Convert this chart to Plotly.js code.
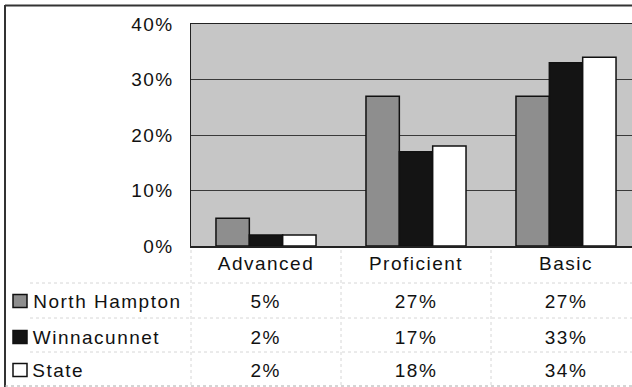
<!DOCTYPE html>
<html>
<head>
<meta charset="utf-8">
<script src="https://cdn.plot.ly/plotly-3.0.1.min.js"></script>
<style>
  html, body { margin: 0; padding: 0; background: #fff; }
  #chart { width: 632px; height: 387px; }
  #chart text { letter-spacing: 1.5px; }
</style>
</head>
<body>
<div id="chart"></div>
<script>
// Achievement levels and the share of students in each, by group
const categories = ['Advanced', 'Proficient', 'Basic'];
const seriesNames = ['North Hampton', 'Winnacunnet', 'State'];
const northHampton = [5, 27, 27];
const winnacunnet = [2, 17, 33];
const state = [2, 18, 34];
const yTicks = [0, 10, 20, 30, 40];

const seriesValues = [northHampton, winnacunnet, state];
const seriesColors = ['#8e8e8e', '#141414', '#ffffff'];

// figure geometry (pixels)
const W = 632, H = 387;
const M = { l: 191, r: 0, t: 24, b: 141 };
const plotW = W - M.l - M.r;
const plotH = H - M.t - M.b;
const slot = 150;                       // pixel width of one category
const px = x => (x - M.l) / plotW;      // pixel -> paper x
const py = y => 1 - (y - M.t) / plotH;  // pixel -> paper y

const font = { family: '"Liberation Sans", Arial, Helvetica, sans-serif', size: 19, color: '#111111' };

const traces = seriesNames.map((name, i) => ({
  type: 'bar',
  name: name,
  x: categories,
  y: seriesValues[i],
  marker: { color: seriesColors[i], line: { color: '#111', width: 1.5 } },
  hoverinfo: 'skip'
}));

// data table beneath the plot
const rowY = [301, 337, 370];
const labelCenterX = [107, 97, 58];     // centre of each row label, labels start at x = 33
const annotations = [];
const shapes = [];
seriesNames.forEach((name, r) => {
  annotations.push({
    xref: 'paper', yref: 'paper', x: px(labelCenterX[r]), y: py(rowY[r]),
    xanchor: 'center', yanchor: 'middle', text: name, showarrow: false, font: font
  });
  categories.forEach((c, k) => {
    annotations.push({
      xref: 'x', yref: 'paper', x: c, y: py(rowY[r]),
      xanchor: 'center', yanchor: 'middle', text: seriesValues[r][k] + '%',
      showarrow: false, font: font
    });
  });
  // legend key square
  const top = rowY[r] - 6.5;
  shapes.push({
    type: 'rect', xref: 'paper', yref: 'paper',
    x0: px(13), x1: px(27), y0: py(top), y1: py(top + 13),
    fillcolor: seriesColors[r], line: { color: '#111', width: 1.5 }
  });
});

// faint dotted rules of the table
const faint = { color: '#d6d6d6', width: 1, dash: 'dot' };
[283, 318, 352].forEach(y => shapes.push({
  type: 'line', xref: 'paper', yref: 'paper',
  x0: px(30), x1: px(W), y0: py(y), y1: py(y), line: faint
}));
[M.l, M.l + slot, M.l + 2 * slot].forEach(x => shapes.push({
  type: 'line', xref: 'paper', yref: 'paper',
  x0: px(x), x1: px(x), y0: py(250), y1: py(H), line: faint
}));

// outer frame (left, top, bottom)
const frame = { color: '#333', width: 2 };
shapes.push({ type: 'line', xref: 'paper', yref: 'paper', x0: px(5), x1: px(5), y0: py(5), y1: py(H), line: frame });
shapes.push({ type: 'line', xref: 'paper', yref: 'paper', x0: px(5), x1: px(W), y0: py(5.5), y1: py(5.5), line: frame });
shapes.push({ type: 'line', xref: 'paper', yref: 'paper', x0: px(5), x1: px(W), y0: py(386), y1: py(386),
  line: { color: '#aaa', width: 1, dash: 'dot' } });

const layout = {
  width: W, height: H,
  margin: M,
  paper_bgcolor: '#ffffff',
  plot_bgcolor: '#c6c6c6',
  font: font,
  showlegend: false,
  barmode: 'group',
  bargap: 0.333,
  bargroupgap: 0,
  xaxis: {
    type: 'category',
    range: [-0.5, plotW / slot - 0.5],
    showline: true, linecolor: '#222', linewidth: 1.5, mirror: true,
    showgrid: false, ticks: '', ticklabelstandoff: 0,
    tickfont: font, fixedrange: true
  },
  yaxis: {
    range: [0, 40],
    tickvals: yTicks, ticktext: yTicks.map(v => v + '%'),
    showline: true, linecolor: '#222', linewidth: 1.5,
    showgrid: true, gridcolor: '#3a3a3a', gridwidth: 1,
    zeroline: false, ticks: '', ticklabelstandoff: 12,
    tickfont: font, fixedrange: true
  },
  annotations: annotations,
  shapes: shapes
};

Plotly.newPlot('chart', traces, layout, { staticPlot: true, displayModeBar: false });
</script>
</body>
</html>
